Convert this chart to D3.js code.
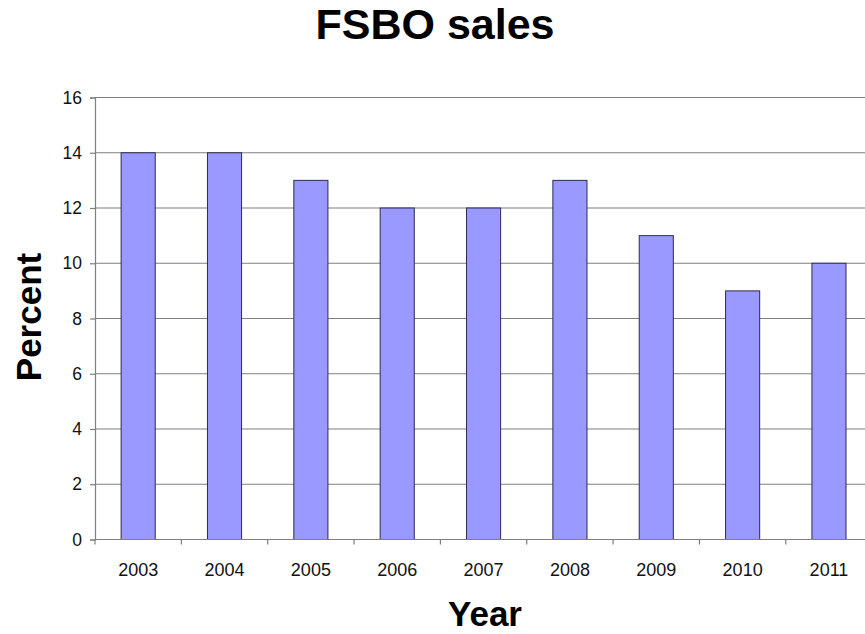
<!DOCTYPE html>
<html><head><meta charset="utf-8">
<script src="https://cdn.jsdelivr.net/npm/d3@7"></script>
<style>body{margin:0;background:#fff}svg{display:block}text{font-family:"Liberation Sans",Arial,sans-serif}</style>
</head><body>
<svg id="c" width="865" height="634"></svg>
<script>
const years = ["2003","2004","2005","2006","2007","2008","2009","2010","2011"];
const percent = [14,14,13,12,12,13,11,9,10];
const yTicks = [0,2,4,6,8,10,12,14,16];

const svg = d3.select("#c");
const plotLeft = 95, plotTop = 97.5, plotBottom = 539.5, step = 86.35;
const x = d3.scaleBand().domain(years).range([plotLeft, plotLeft + step*years.length]).padding(0);
const y = d3.scaleLinear().domain([0,16]).range([plotBottom, plotTop]);
const bw = x.bandwidth()*0.395;

// gridlines
svg.append("g").selectAll("line").data(yTicks.filter(d=>d>0)).join("line")
  .attr("x1", plotLeft).attr("x2", 865).attr("y1", d=>y(d)).attr("y2", d=>y(d))
  .attr("stroke","#7f7f7f").attr("stroke-width",1.2);

// bars
svg.append("g").selectAll("rect").data(years).join("rect")
  .attr("x", (d)=>x(d)+x.bandwidth()/2-bw/2)
  .attr("width", bw)
  .attr("y", (d,i)=>y(percent[i]))
  .attr("height", (d,i)=>y(0)-y(percent[i]))
  .attr("fill","#9999ff").attr("stroke","#2b2b55").attr("stroke-width",1);

// y axis
const ya = svg.append("g").attr("transform",`translate(${plotLeft},0)`)
  .call(d3.axisLeft(y).tickValues(yTicks).tickSize(5).tickPadding(8));
ya.select(".domain").attr("stroke","#7f7f7f").attr("stroke-width",1.2);
ya.selectAll(".tick line").attr("stroke","#7f7f7f").attr("stroke-width",1.2);
ya.selectAll("text").attr("font-size",17.5).attr("fill","#111").attr("font-family","Liberation Sans, Arial, sans-serif");

// x axis
const xa = svg.append("g").attr("transform",`translate(0,${plotBottom})`)
  .call(d3.axisBottom(x).tickSize(0).tickPadding(24));
xa.select(".domain").remove();
xa.selectAll("text").attr("font-size",18).attr("fill","#111").attr("font-family","Liberation Sans, Arial, sans-serif");
svg.append("line").attr("x1",plotLeft).attr("x2",865).attr("y1",plotBottom).attr("y2",plotBottom)
  .attr("stroke","#7f7f7f").attr("stroke-width",1.2);
svg.append("g").selectAll("line").data(years).join("line")
  .attr("x1",d=>x(d)).attr("x2",d=>x(d)).attr("y1",plotBottom).attr("y2",plotBottom+5)
  .attr("stroke","#7f7f7f").attr("stroke-width",1.2);

// titles
svg.append("text").attr("x",435).attr("y",39).attr("text-anchor","middle")
  .attr("font-size",43).attr("font-weight","bold").attr("fill","#000").text("FSBO sales");
svg.append("text").attr("x",485).attr("y",626).attr("text-anchor","middle")
  .attr("font-size",35).attr("font-weight","bold").attr("fill","#000").text("Year");
svg.append("text").attr("transform","translate(41,317) rotate(-90)").attr("text-anchor","middle")
  .attr("font-size",35).attr("font-weight","bold").attr("fill","#000").text("Percent");
</script>
</body></html>
